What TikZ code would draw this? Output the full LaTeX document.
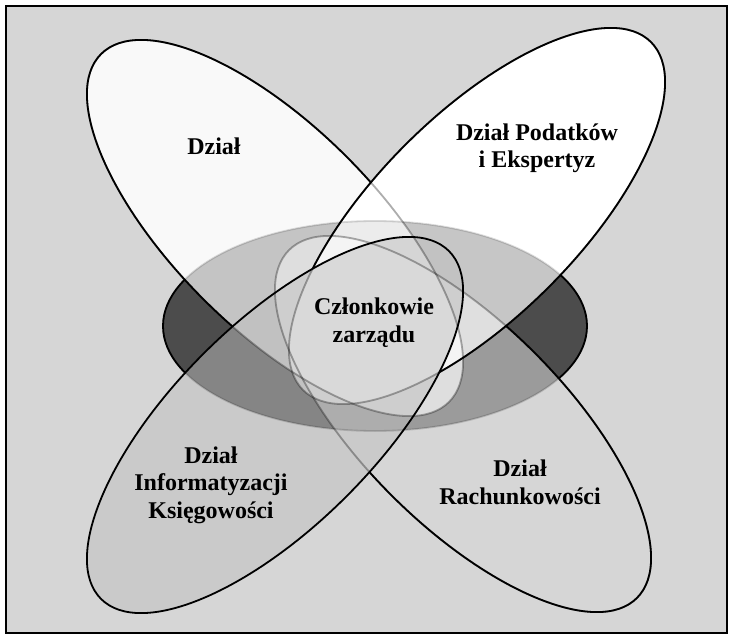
\documentclass[tikz,border=0pt]{standalone}
\usepackage{fontspec}
\setmainfont{Liberation Serif}
\definecolor{bgc}{gray}{0.84}
\definecolor{hfill}{gray}{0.30}
\definecolor{ifill}{gray}{0.75}
\begin{document}
\begin{tikzpicture}[x=1pt,y=-1pt,
  elD/.style={shift={(275,228)},rotate=-45},
  elP/.style={shift={(477,216)},rotate=45},
  elI/.style={shift={(275,425)},rotate=45},
  elR/.style={shift={(463,424)},rotate=-45},
  elH/.style={shift={(375,326)}},
  outl/.style={draw=black,line width=1.8pt},
  covered/.style={draw=black,draw opacity=0.32,line width=1.8pt},
  lbl/.style={font=\fontsize{24}{27.5}\selectfont\bfseries,align=center,inner sep=0pt}
]
\useasboundingbox (0,0) rectangle (733,639);
\fill[white] (0,0) rectangle (733,639);
\fill[bgc] (6,6) rectangle (727,633);
% horizontal ellipse
\fill[hfill,elH] (0,0) ellipse [x radius=212,y radius=105];
% Rachunkowosci
\fill[bgc,fill opacity=0.574,elR] (0,0) ellipse [x radius=246,y radius=101];
% Dzial and Podatkow inside the horizontal ellipse
\begin{scope}
  \clip[elH] (0,0) ellipse [x radius=212,y radius=105];
  \fill[white,fill opacity=0.67,elD] (0,0) ellipse [x radius=246,y radius=101];
  \fill[white,fill opacity=0.686,elP] (0,0) ellipse [x radius=246,y radius=101];
\end{scope}
% Dzial and Podatkow outside it
\begin{scope}[even odd rule]
  \clip[elH] (-2000,-2000) -- (-2000,2000) -- (2000,2000) -- (2000,-2000) -- cycle (0,0) ellipse [x radius=212,y radius=105];
  \fill[white,fill opacity=0.875,elD] (0,0) ellipse [x radius=246,y radius=101];
  \fill[white,elP] (0,0) ellipse [x radius=246,y radius=101];
\end{scope}
% Informatyzacji
\fill[ifill,fill opacity=0.5,elI] (0,0) ellipse [x radius=246,y radius=101];
% covered outlines
\draw[covered,draw opacity=0.15,elH] (0,0) ellipse [x radius=212,y radius=105];
\draw[covered,elR] (0,0) ellipse [x radius=246,y radius=101];
\draw[covered,elD] (0,0) ellipse [x radius=246,y radius=101];
\draw[covered,elP] (0,0) ellipse [x radius=246,y radius=101];
% visible outlines
\begin{scope}[even odd rule]
  \clip[elD] (-2000,-2000) -- (-2000,2000) -- (2000,2000) -- (2000,-2000) -- cycle (0,0) ellipse [x radius=246,y radius=101];
  \clip[elP] (-2000,-2000) -- (-2000,2000) -- (2000,2000) -- (2000,-2000) -- cycle (0,0) ellipse [x radius=246,y radius=101];
  \clip[elI] (-2000,-2000) -- (-2000,2000) -- (2000,2000) -- (2000,-2000) -- cycle (0,0) ellipse [x radius=246,y radius=101];
  \clip[elR] (-2000,-2000) -- (-2000,2000) -- (2000,2000) -- (2000,-2000) -- cycle (0,0) ellipse [x radius=246,y radius=101];
  \draw[outl,elH] (0,0) ellipse [x radius=212,y radius=105];
\end{scope}
\begin{scope}[even odd rule]
  \clip[elD] (-2000,-2000) -- (-2000,2000) -- (2000,2000) -- (2000,-2000) -- cycle (0,0) ellipse [x radius=246,y radius=101];
  \clip[elP] (-2000,-2000) -- (-2000,2000) -- (2000,2000) -- (2000,-2000) -- cycle (0,0) ellipse [x radius=246,y radius=101];
  \clip[elI] (-2000,-2000) -- (-2000,2000) -- (2000,2000) -- (2000,-2000) -- cycle (0,0) ellipse [x radius=246,y radius=101];
  \draw[outl,elR] (0,0) ellipse [x radius=246,y radius=101];
\end{scope}
\begin{scope}[even odd rule]
  \clip[elP] (-2000,-2000) -- (-2000,2000) -- (2000,2000) -- (2000,-2000) -- cycle (0,0) ellipse [x radius=246,y radius=101];
  \clip[elI] (-2000,-2000) -- (-2000,2000) -- (2000,2000) -- (2000,-2000) -- cycle (0,0) ellipse [x radius=246,y radius=101];
  \clip[elR] (-2000,-2000) -- (-2000,2000) -- (2000,2000) -- (2000,-2000) -- cycle (0,0) ellipse [x radius=246,y radius=101];
  \draw[outl,elD] (0,0) ellipse [x radius=246,y radius=101];
\end{scope}
\begin{scope}[even odd rule]
  \clip[elI] (-2000,-2000) -- (-2000,2000) -- (2000,2000) -- (2000,-2000) -- cycle (0,0) ellipse [x radius=246,y radius=101];
  \draw[outl,elP] (0,0) ellipse [x radius=246,y radius=101];
\end{scope}
\draw[outl,elI] (0,0) ellipse [x radius=246,y radius=101];
% labels (base = baseline of the last line)
\node[lbl,anchor=base] (tD) at (214,155) {Dział};
\node[lbl,anchor=base] (tP) at (537,168) {Dział Podatków\\i Ekspertyz};
\node[lbl,anchor=base] (tC) at (374,342) {Członkowie\\zarządu};
\node[lbl,anchor=base] (tI) at (211,518) {Dział\\Informatyzacji\\Księgowości};
\node[lbl,anchor=base] (tR) at (520,504) {Dział\\Rachunkowości};
% frame
\draw[line width=1.5pt] (6,6) rectangle (727,633);
\end{tikzpicture}
\end{document}
